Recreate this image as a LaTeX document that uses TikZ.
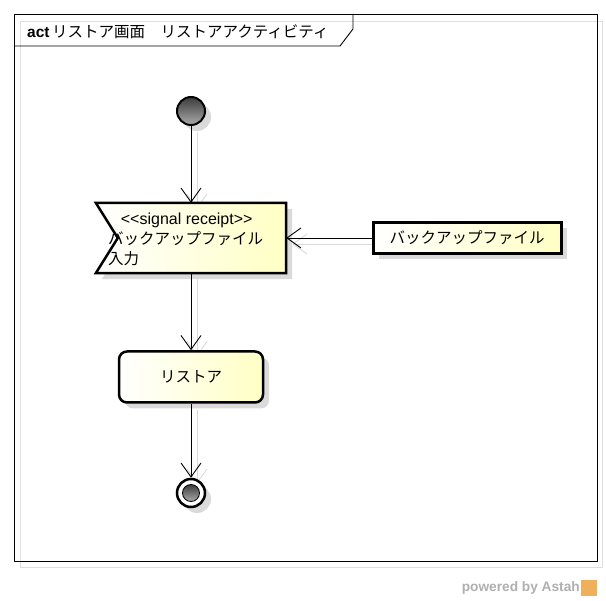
\documentclass[tikz,border=0pt]{standalone}
\usepackage{fontspec}
\setmainfont{Noto Sans CJK JP}
\setsansfont{Liberation Sans}
\usepackage{tikz}
\usepackage{xcolor}
\usetikzlibrary{arrows.meta, positioning, calc, shadows, backgrounds}
\definecolor{fillyellow}{RGB}{255,255,196}
\definecolor{shadowgray}{RGB}{218,218,218}
\definecolor{framegray}{RGB}{222,222,222}
\definecolor{balltop}{RGB}{60,60,60}
\definecolor{ballbottom}{RGB}{170,170,170}
\definecolor{astahgray}{RGB}{175,175,175}
\definecolor{astahorange}{RGB}{240,175,90}
\newcommand{\diagramfont}{\fontsize{15.5}{20}\selectfont}
\tikzstyle{shadowed} = [drop shadow={shadow xshift=6pt, shadow yshift=-6pt, fill=shadowgray, opacity=1}]
\tikzstyle{initnode} = [circle, draw, line width=2pt, minimum size=28pt, inner sep=0pt, top color=balltop, bottom color=ballbottom, shadowed]
\tikzstyle{finalnode} = [circle, draw, line width=2.5pt, minimum size=28pt, inner sep=0pt, fill=white, shadowed]
\tikzstyle{finaldot} = [circle, draw, line width=0.8pt, minimum size=17pt, inner sep=0pt, top color=balltop, bottom color=ballbottom]
\tikzstyle{recvbox} = [rectangle, minimum width=190pt, minimum height=70pt, inner sep=0pt]
\tikzstyle{recvshape} = [line width=2.5pt, line join=miter, left color=white, right color=fillyellow, shadowed]
\tikzstyle{recvtext} = [inner sep=0pt, align=left, font=\diagramfont]
\tikzstyle{objbox} = [rectangle, draw, line width=3pt, minimum width=188pt, minimum height=31pt, left color=white, right color=fillyellow, font=\diagramfont, shadowed]
\tikzstyle{actbox} = [rectangle, draw, line width=2.5pt, rounded corners=8pt, minimum width=144pt, minimum height=51pt, left color=white, right color=fillyellow, font=\diagramfont, shadowed]
\tikzstyle{edge} = [-{Straight Barb[length=14pt, width=20pt]}, line width=0.9pt]
\tikzstyle{edgeshadow} = [-{Straight Barb[length=14pt, width=20pt]}, line width=0.9pt, draw=shadowgray]

\begin{document}
\begin{tikzpicture}[x=1pt, y=-1pt]
    \useasboundingbox (0,0) rectangle (606,601);

    % Frame
    \node[anchor=base west, inner sep=0pt, font=\diagramfont] (title) at (27,38) {\textbf{\sffamily act}\,リストア画面　リストアアクティビティ};
    \draw[line width=0.9pt] (14,14) rectangle (597,561);
    \draw[line width=0.9pt] (14,46) -- (340,46) -- (353,29) -- (353,14);

    % Nodes
    \node[initnode] (init) at (191,111) {};
    \node[recvbox] (recv) at (191,238) {};
    \draw[recvshape] (recv.north west) -- (recv.north east) -- (recv.south east) -- (recv.south west) -- ([xshift=22pt]recv.west) -- cycle;
    \node[recvtext, anchor=west] (recvlabel) at (108,239) {\makebox[157pt]{\sffamily\fontsize{16}{20}\selectfont <\kern0pt<signal receipt>\kern0pt>}\\バックアップファイル\\入力};
    \node[objbox] (file) at (467,238) {バックアップファイル};
    \node[actbox] (restore) at (191,377) {リストア};
    \node[finalnode] (final) at (191,493) {};
    \node[finaldot] (finalcore) at (final) {};

    % Connectors
    \draw[edge] (init) -- (recv);
    \draw[edge] (file) -- (recv);
    \draw[edge] (recv) -- (restore);
    \draw[edge] (restore) -- (final);

    % Shadows of frame and connectors
    \begin{scope}[on background layer]
        \draw[framegray, line width=0.9pt] (20,21) rectangle (602,567);
        \draw[edgeshadow] ([shift={(6,6)}]init.south) -- ([shift={(6,6)}]recv.north);
        \draw[edgeshadow] ([shift={(6,6)}]file.west) -- ([shift={(6,6)}]recv.east);
        \draw[edgeshadow] ([shift={(6,6)}]recv.south) -- ([shift={(6,6)}]restore.north);
        \draw[edgeshadow] ([shift={(6,6)}]restore.south) -- ([shift={(6,6)}]final.north);
    \end{scope}

    % Footer
    \node[anchor=east, inner sep=0pt, text=astahgray, font=\sffamily\bfseries\fontsize{13.7}{16}\selectfont] (powered) at (580,588) {powered by Astah};
    \node[fill=astahorange, minimum size=16pt, inner sep=0pt, right=1pt of powered] (logo) {};
\end{tikzpicture}
\end{document}
